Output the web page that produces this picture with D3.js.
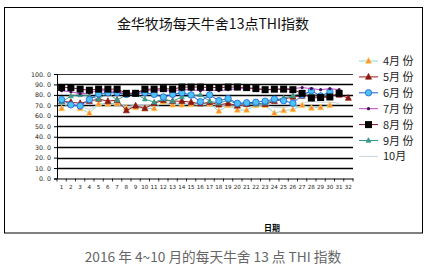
<!DOCTYPE html>
<html><head><meta charset="utf-8">
<script src="https://cdn.jsdelivr.net/npm/d3@7"></script>
<style>body{margin:0;background:#fff}svg{display:block}</style>
</head><body>
<svg id="c" width="432" height="266"></svg>
<script>
const days = d3.range(1, 33);
const yTicks = [0,10,20,30,40,50,60,70,80,90,100];
const seriesNames = ["4月 份","5月 份","6月 份","7月 份","8月 份","9月 份","10月"];
const apr = [67,73,67,62.5,71.5,71.5,72,67.5,68,67,67,73.5,70.5,70.5,71,72,71.5,64.5,70,65.5,65.5,70,70,62.5,65,66,70,67.5,68,70];
const may = [74,73,72,74,76,74,75,65,69.5,67,72,75,74,74,73,71.5,73,70.5,72,69.5,71,72,71,74,76,78,79,80,78,79,80,77];
const jun = [75.5,70.5,69.5,75.5,81,82,82,80.5,81.5,82,80.5,78,80.5,82,80,73.5,80,74.5,76.5,72,72.5,73,74,76,74.5,72,80,84,79,83];
const jul = [84,83,81,82,84,84,83,81,82,84,85,84,84,85,85,84,85,84,85,86,86,86,85,85,86,86,87,86,85,86,85];
const aug = [87,87,85.5,84.5,85.5,85.5,85.5,81.5,81.5,85.5,85.5,86,85.5,87.5,87.5,87.5,87,87,87.5,87.5,87,86,85,85.5,85.5,85,81.5,77,77.5,78,81.5];
const sep = [73,79,80,79,76,82,75,80,81,76,73,76,74,78,79,80,74,72,75,71,72,71,72,75,77,79,82,80,80,79];
const oct = [72,71,69,66,71,72,72,69,70,70,70,72,72,72,71,70,71,70,70,69,70,72,70,68,68,69,72,74,73,73,72];
const seriesData = [apr, may, jun, jul, aug, sep, oct];

const styles = [
  {line:"#8fd8e0", marker:"tri", fill:"#ff8c3a", stroke:"#ffd24a", size:5},
  {line:"#9b1c1c", marker:"tri", fill:"#8b1a10", stroke:"#8b1a10", size:5},
  {line:"#1f5fd6", marker:"circle", fill:"#4cc3f5", stroke:"#1f5fd6", size:3.2},
  {line:"#c040c8", marker:"dot", fill:"#3a1050", stroke:"#3a1050", size:1.6},
  {line:"#7a1030", marker:"square", fill:"#000", stroke:"#000", size:7},
  {line:"#3a9a8a", marker:"tri", fill:"#3a9a8a", stroke:"#3a9a8a", size:4},
  {line:"#c8d4dc", marker:"none"}
];

const svg = d3.select("#c");
svg.append("rect").attr("x",4.5).attr("y",7.5).attr("width",418).attr("height",225.5)
  .attr("fill","#fff").attr("stroke","#000").attr("stroke-width",1);

svg.append("text").attr("x",213).attr("y",29).attr("text-anchor","middle")
  .attr("font-family","Noto Sans CJK SC").attr("font-size",14).attr("fill","#111")
  .text("金华牧场每天牛舍13点THI指数");

const x = d3.scaleBand().domain(days).range([57,353]);
const y = d3.scaleLinear().domain([0,100]).range([178.5,74]);

svg.append("g").selectAll("line").data(yTicks.filter(t=>t>0)).join("line")
  .attr("x1",57).attr("x2",353).attr("y1",d=>Math.round(y(d))+0.5).attr("y2",d=>Math.round(y(d))+0.5)
  .attr("stroke","#000").attr("stroke-width",d=>d===100?0.8:1.4);

const ya = svg.append("g").attr("transform","translate(57,0)")
  .call(d3.axisLeft(y).tickValues(yTicks).tickSize(3).tickFormat(d=>d3.format(".1f")(d).replace(".",". ")));
ya.select(".domain").attr("stroke","#000");
ya.selectAll("text").attr("font-family","DejaVu Sans").attr("font-size",6.3).attr("fill","#222").attr("x",-6);

const xa = svg.append("g").attr("transform","translate(0,178.5)")
  .call(d3.axisBottom(x).tickSize(0).tickPadding(7));
xa.select(".domain").attr("stroke","#000").attr("stroke-width",1.2);
xa.selectAll("text").attr("font-family","DejaVu Sans").attr("font-size",5.6).attr("fill","#222");
svg.append("g").selectAll("line").data(days.concat([33])).join("line")
  .attr("x1",d=>57+(d-1)*x.bandwidth()).attr("x2",d=>57+(d-1)*x.bandwidth())
  .attr("y1",178.5).attr("y2",181.5).attr("stroke","#000").attr("stroke-width",0.8);

svg.append("text").attr("x",272).attr("y",231).attr("text-anchor","middle")
  .attr("font-family","Noto Sans CJK SC").attr("font-weight","bold").attr("font-size",8).attr("fill","#000")
  .text("日期");

const cx = d => x(d) + x.bandwidth()/2;
function drawMarker(g, st, px, py){
  if(st.marker==="tri"){
    const s = st.size;
    g.append("path").attr("d",`M${px},${py-s*0.7}L${px+s*0.6},${py+s*0.45}L${px-s*0.6},${py+s*0.45}Z`)
      .attr("fill",st.fill).attr("stroke",st.stroke).attr("stroke-width",0.7);
  } else if(st.marker==="circle"){
    g.append("circle").attr("cx",px).attr("cy",py).attr("r",st.size)
      .attr("fill",st.fill).attr("stroke",st.stroke).attr("stroke-width",0.8);
  } else if(st.marker==="dot"){
    g.append("circle").attr("cx",px).attr("cy",py).attr("r",st.size).attr("fill",st.fill);
  } else if(st.marker==="square"){
    const s = st.size;
    g.append("rect").attr("x",px-s/2).attr("y",py-s/2).attr("width",s).attr("height",s).attr("fill",st.fill);
  }
}

const line = d3.line().x((v,i)=>cx(days[i])).y(v=>y(v));
const drawOrder = [6,0,1,5,2,3,4];
drawOrder.forEach(k=>{
  const st = styles[k], data = seriesData[k];
  const g = svg.append("g");
  g.append("path").attr("d",line(data)).attr("fill","none").attr("stroke",st.line).attr("stroke-width",1);
  data.forEach((v,i)=>drawMarker(g, st, cx(days[i]), y(v)));
});

seriesNames.forEach((n,i)=>{
  const st = styles[i];
  const ly = 61 + i*15.9;
  const g = svg.append("g");
  g.append("line").attr("x1",359).attr("x2",378).attr("y1",ly).attr("y2",ly).attr("stroke",st.line).attr("stroke-width",1);
  drawMarker(g, st, 368.5, ly);
  g.append("text").attr("x",383).attr("y",ly+4).attr("font-family","Noto Sans CJK SC")
    .attr("font-size",11).attr("fill","#222").text(n);
});

svg.append("text").attr("x",213).attr("y",262).attr("text-anchor","middle")
  .attr("font-family","Noto Sans CJK SC").attr("font-size",13.7).attr("fill","#666")
  .text("2016 年 4~10 月的每天牛舍 13 点 THI 指数");
</script>
</body></html>
